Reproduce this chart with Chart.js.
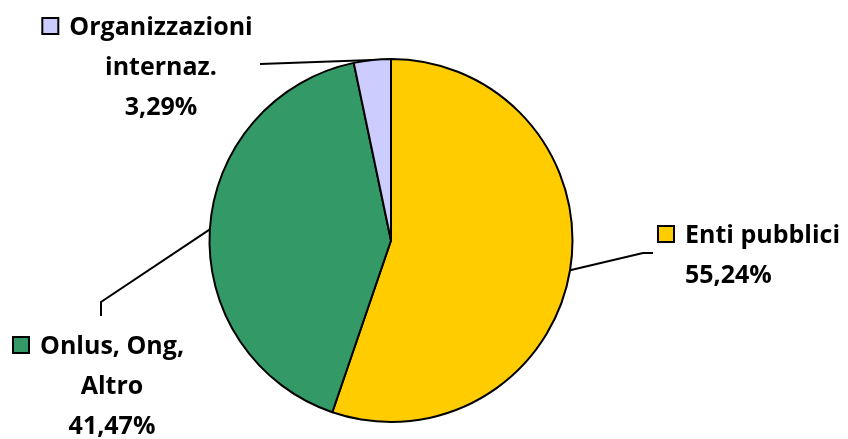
<!DOCTYPE html>
<html>
<head>
<meta charset="utf-8">
<script src="https://cdn.jsdelivr.net/npm/chart.js@4/dist/chart.umd.min.js"></script>
<style>
  html, body { margin: 0; padding: 0; background: #fff; }
  #wrap { width: 848px; height: 439px; position: relative; }
</style>
</head>
<body>
<div id="wrap"><canvas id="myChart" width="848" height="439"></canvas></div>
<script>
// data
const categories = ['Enti pubblici', 'Onlus, Ong, Altro', 'Organizzazioni internaz.'];
const shares = [55.24, 41.47, 3.29];
const labelLines = [['Enti pubblici'], ['Onlus, Ong,', 'Altro'], ['Organizzazioni', 'internaz.']];
const sliceColors = ['#FFCC00', '#339966', '#CCCCFF'];

// where each label block sits, and the bends of its leader line
const labelLayout = [
  { x: 685, y: 243, align: 'left', bend: [[643, 253], [653, 253]] },
  { x: 112, y: 354, align: 'center', bend: [[101, 302], [101, 316]] },
  { x: 161, y: 35, align: 'center', bend: [[260, 64]] }
];
const FONT = 'bold 25px "Open Sans"';
const LINE_H = 40;

function pct(v) {
  return v.toFixed(2).replace('.', ',') + '%';
}

const labelPlugin = {
  id: 'pieLabels',
  afterDatasetsDraw(chart) {
    const c = chart.ctx;
    const meta = chart.getDatasetMeta(0);
    meta.data.forEach((arc, i) => {
      const p = arc.getProps(['x', 'y', 'startAngle', 'endAngle', 'outerRadius'], true);
      const mid = (p.startAngle + p.endAngle) / 2;
      const ex = p.x + Math.cos(mid) * p.outerRadius;
      const ey = p.y + Math.sin(mid) * p.outerRadius;
      const lay = labelLayout[i];

      // leader line
      c.save();
      c.strokeStyle = '#000';
      c.lineWidth = 2;
      c.beginPath();
      c.moveTo(ex, ey);
      lay.bend.forEach(pt => c.lineTo(pt[0], pt[1]));
      c.stroke();

      // text lines
      c.font = FONT;
      c.fillStyle = '#000';
      c.textBaseline = 'alphabetic';
      c.textAlign = lay.align;
      const lines = labelLines[i].concat([pct(shares[i])]);
      lines.forEach((t, k) => {
        c.fillText(t, lay.x, lay.y + k * LINE_H);
      });

      // legend key in front of first line
      const w0 = c.measureText(lines[0]).width;
      const left = lay.align === 'center' ? lay.x - w0 / 2 : lay.x;
      const s = 16;
      c.fillStyle = sliceColors[i];
      c.fillRect(left - 11 - s, lay.y - s - 1, s, s);
      c.lineWidth = 2;
      c.strokeRect(left - 11 - s, lay.y - s - 1, s, s);
      c.restore();
    });
  }
};

const ctx = document.getElementById('myChart').getContext('2d');
let myChart = new Chart(ctx, {
  type: 'pie',
  data: {
    labels: categories,
    datasets: [{
      data: shares,
      backgroundColor: sliceColors,
      borderColor: '#000',
      borderWidth: 2
    }]
  },
  options: {
    responsive: false,
    animation: false,
    layout: { padding: { top: 58, bottom: 16, left: 191, right: 257 } },
    plugins: {
      legend: { display: false },
      tooltip: { enabled: false }
    }
  },
  plugins: [labelPlugin]
});
</script>
</body>
</html>
